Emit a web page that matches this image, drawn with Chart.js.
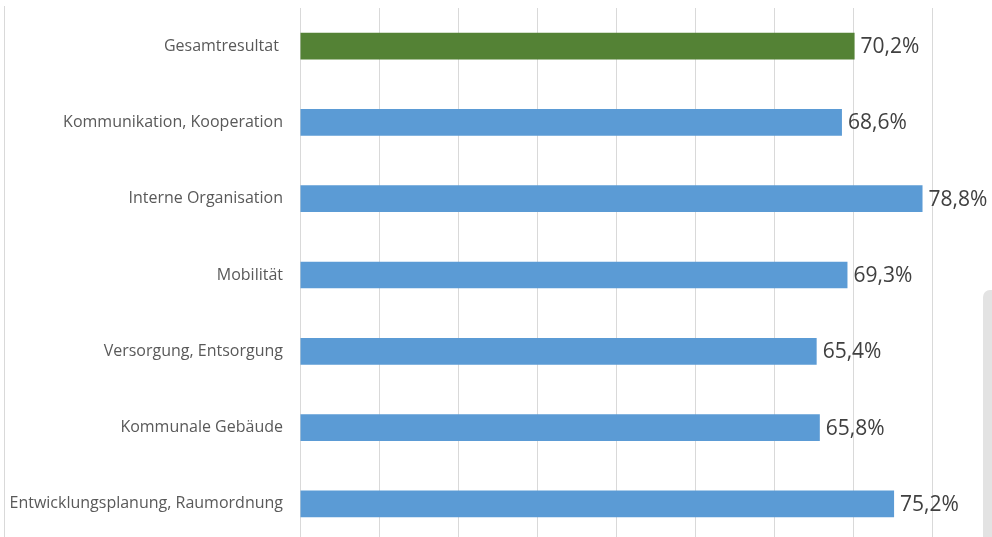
<!DOCTYPE html>
<html>
<head>
<meta charset="utf-8">
<script src="https://cdn.jsdelivr.net/npm/chart.js@4.4.1/dist/chart.umd.min.js"></script>
<style>
  html, body { margin: 0; padding: 0; background: #fff; overflow: hidden; }
  #wrap { position: relative; width: 992px; height: 545px; }
  #edge { position: absolute; left: 4px; top: 6px; width: 1px; height: 540px; background: #d9d9d9; }
  #scroll { position: absolute; left: 983px; top: 290px; width: 20px; height: 260px; background: #e3e3e3; border-radius: 7px 0 0 0; }
</style>
</head>
<body>
<div id="wrap">
  <canvas id="chart" width="992" height="545"></canvas>
  <div id="edge"></div>
  <div id="scroll"></div>
</div>
<script>
var categories = ["Gesamtresultat ", "Kommunikation, Kooperation", "Interne Organisation", "Mobilität",
                  "Versorgung, Entsorgung", "Kommunale Gebäude", "Entwicklungsplanung, Raumordnung"];
var values = [70.2, 68.6, 78.8, 69.3, 65.4, 65.8, 75.2];
var barColors = ["#548235", "#5b9bd5", "#5b9bd5", "#5b9bd5", "#5b9bd5", "#5b9bd5", "#5b9bd5"];
var xTicks = [0, 10, 20, 30, 40, 50, 60, 70, 80];

// draws the value next to each bar, like excel's data labels
var valueLabels = {
  id: "valueLabels",
  afterDatasetsDraw(chart) {
    var ctx = chart.ctx;
    var meta = chart.getDatasetMeta(0);
    ctx.save();
    ctx.font = "21px 'Open Sans'";
    ctx.fillStyle = "#404040";
    ctx.textAlign = "left";
    ctx.textBaseline = "middle";
    meta.data.forEach((bar, i) => {
      ctx.fillText(values[i].toFixed(1).replace(".", ",") + "%", bar.x + 6, bar.y + 1);
    });
    ctx.restore();
  }
};

var canvas = document.getElementById("chart");
var config = {
  type: "bar",
  data: {
    labels: categories,
    datasets: [{
      data: values,
      backgroundColor: barColors,
      borderWidth: 0,
      barPercentage: 0.35,
      categoryPercentage: 1
    }]
  },
  options: {
    indexAxis: "y",
    responsive: false,
    animation: false,
    layout: { padding: { top: 8, right: 60, bottom: 3, left: 0 } },
    plugins: { legend: { display: false }, tooltip: { enabled: false } },
    scales: {
      x: {
        min: 0,
        max: 80,
        afterBuildTicks: s => { s.ticks = xTicks.map(v => ({ value: v })); },
        afterFit: s => { s.height = 0; s.paddingLeft = 0; s.paddingRight = 0; },
        ticks: { display: false },
        grid: { color: "#d9d9d9", drawTicks: false },
        border: { display: false }
      },
      y: {
        afterFit: s => { s.width = 300; s.paddingTop = 0; s.paddingBottom = 0; },
        ticks: { color: "#595959", font: { family: "'Open Sans'", size: 16 }, padding: 17 },
        grid: { display: false, drawTicks: false },
        border: { display: false }
      }
    }
  },
  plugins: [valueLabels]
};

var barchart = new Chart(canvas, config);
</script>
</body>
</html>
